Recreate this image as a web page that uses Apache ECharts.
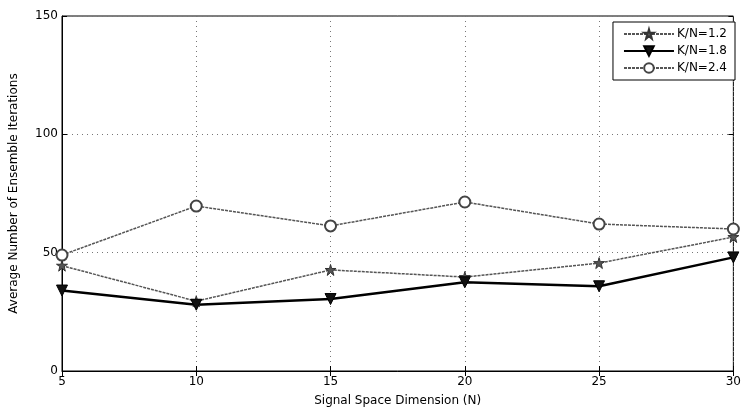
<!DOCTYPE html>
<html>
<head>
<meta charset="utf-8">
<script src="https://cdn.jsdelivr.net/npm/echarts@6/dist/echarts.min.js"></script>
<style>
  html, body { margin: 0; padding: 0; background: #fff; }
  #chart { width: 744px; height: 412px; }
</style>
</head>
<body>
<div id="chart"></div>
<script>
const dims = [5, 10, 15, 20, 25, 30];
const kn12 = [44.5, 29.5, 42.7, 39.7, 45.6, 56.6];
const kn18 = [34, 28, 30.4, 37.5, 35.8, 48];
const kn24 = [49, 69.7, 61.3, 71.4, 62.1, 60];
const seriesNames = ['K/N=1.2', 'K/N=1.8', 'K/N=2.4'];

const font = 'DejaVu Sans, sans-serif';
const starPath = 'path://M10,0 L12,7 L20,7 L14,11 L16,19 L10,14 L4,19 L6,11 L0,7 L8,7 Z';

const pair = (vals) => dims.map((d, i) => [d, vals[i]]);

const chart = echarts.init(document.getElementById('chart'));
chart.setOption({
    animation: false,
    textStyle: {fontFamily: font},
    grid: {
        left: 61,
        right: 8,
        top: 16,
        bottom: 41,
        show: true,
        borderColor: '#000',
        borderWidth: 1,
    },
    legend: {
        orient: 'vertical',
        right: 9,
        top: 22,
        itemWidth: 50,
        itemHeight: 12,
        itemGap: 5,
        padding: [6, 8, 6, 10],
        borderColor: '#000',
        borderWidth: 1,
        backgroundColor: '#fff',
        textStyle: {fontSize: 12, color: '#000', fontFamily: font, padding: [0, 0, 0, -2]},
        data: seriesNames,
    },
    xAxis: [{
        type: 'value',
        min: 5,
        max: 30,
        interval: 5,
        name: 'Signal Space Dimension (N)',
        nameLocation: 'middle',
        nameGap: 24,
        nameTextStyle: {fontSize: 12, color: '#000'},
        axisLine: {lineStyle: {color: '#000'}},
        axisTick: {inside: true, length: 5, lineStyle: {color: '#000'}},
        axisLabel: {fontSize: 12, color: '#000', margin: 5},
        splitLine: {show: true, lineStyle: {type: [1, 4], color: '#777'}},
    }, {
        type: 'value',
        position: 'top',
        min: 5,
        max: 30,
        interval: 5,
        axisLine: {show: false},
        axisTick: {inside: true, length: 5, lineStyle: {color: '#000'}},
        axisLabel: {show: false},
        splitLine: {show: false},
    }],
    yAxis: [{
        type: 'value',
        min: 0,
        max: 150,
        interval: 50,
        name: 'Average Number of Ensemble Iterations',
        nameLocation: 'middle',
        nameGap: 42,
        nameTextStyle: {fontSize: 12, color: '#000'},
        axisLine: {show: true, lineStyle: {color: '#000'}},
        axisTick: {show: true, inside: true, length: 5, lineStyle: {color: '#000'}},
        axisLabel: {fontSize: 12, color: '#000', margin: 4},
        splitLine: {show: true, lineStyle: {type: [1, 4], color: '#777'}},
    }, {
        type: 'value',
        position: 'right',
        min: 0,
        max: 150,
        interval: 50,
        axisLine: {show: false},
        axisTick: {show: true, inside: true, length: 5, lineStyle: {color: '#000'}},
        axisLabel: {show: false},
        splitLine: {show: false},
    }],
    series: [{
        name: seriesNames[0],
        type: 'line',
        data: pair(kn12),
        symbol: starPath,
        symbolSize: 11,
        itemStyle: {color: '#555', borderColor: '#333', borderWidth: 1},
        lineStyle: {color: '#555', width: 1.5, type: [3, 1]},
    }, {
        name: seriesNames[1],
        type: 'line',
        data: pair(kn18),
        symbol: 'triangle',
        symbolRotate: 180,
        symbolSize: 11,
        itemStyle: {color: '#111', borderColor: '#000', borderWidth: 1},
        lineStyle: {color: '#000', width: 2.5},
    }, {
        name: seriesNames[2],
        type: 'line',
        data: pair(kn24),
        symbol: 'emptyCircle',
        symbolSize: 11,
        itemStyle: {color: '#444', borderColor: '#444', borderWidth: 1.5},
        lineStyle: {color: '#555', width: 1.5, type: [3, 1]},
    }],
});
</script>
</body>
</html>
